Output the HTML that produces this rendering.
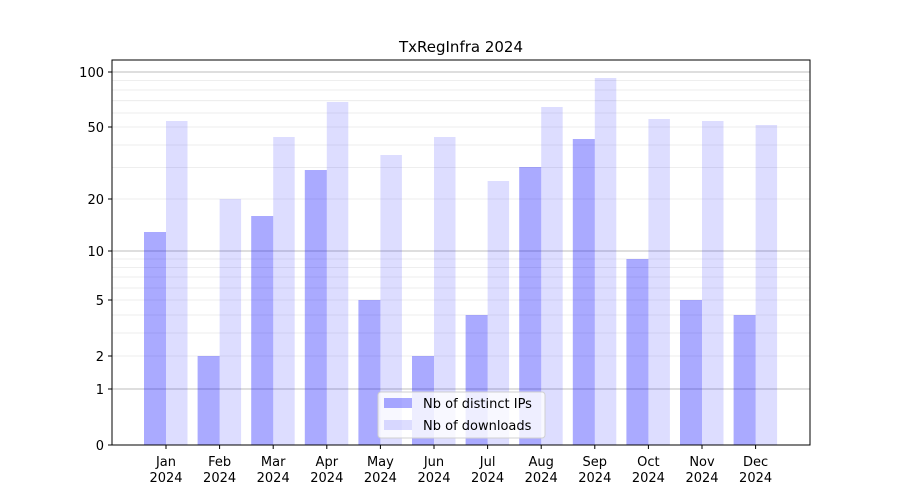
<!DOCTYPE html>
<html><head><meta charset="utf-8"><style>
html,body{margin:0;padding:0;background:#fff;}
svg{display:block;font-family:"DejaVu Sans","Liberation Sans",sans-serif;}
</style></head><body>
<svg width="900" height="500" viewBox="0 0 900 500" xmlns="http://www.w3.org/2000/svg">
<rect width="900" height="500" fill="#fff"/>
<text x="461" y="52" font-size="15" text-anchor="middle" fill="#000">TxRegInfra 2024</text>
<g stroke="#e8e8e8" stroke-width="0.8">
<line x1="112" x2="810" y1="356" y2="356"/><line x1="112" x2="810" y1="333" y2="333"/>
<line x1="112" x2="810" y1="315" y2="315"/><line x1="112" x2="810" y1="300" y2="300"/>
<line x1="112" x2="810" y1="288" y2="288"/><line x1="112" x2="810" y1="277" y2="277"/>
<line x1="112" x2="810" y1="267.5" y2="267.5"/><line x1="112" x2="810" y1="259" y2="259"/>
<line x1="112" x2="810" y1="199" y2="199"/><line x1="112" x2="810" y1="167.6" y2="167.6"/>
<line x1="112" x2="810" y1="145" y2="145"/><line x1="112" x2="810" y1="127" y2="127"/>
<line x1="112" x2="810" y1="113" y2="113"/><line x1="112" x2="810" y1="100.7" y2="100.7"/>
<line x1="112" x2="810" y1="90" y2="90"/><line x1="112" x2="810" y1="80.6" y2="80.6"/>
</g>
<g stroke="#bdbdbd" stroke-width="1">
<line x1="112" x2="810" y1="389" y2="389"/><line x1="112" x2="810" y1="251" y2="251"/><line x1="112" x2="810" y1="72" y2="72"/>
</g>
<g fill="#0000ff" fill-opacity="0.333">
<rect x="144" y="232" width="22" height="213"/>
<rect x="197.6" y="356" width="22" height="89"/>
<rect x="251.2" y="216" width="22" height="229"/>
<rect x="304.8" y="170" width="22" height="275"/>
<rect x="358.4" y="300" width="22" height="145"/>
<rect x="412" y="356" width="22" height="89"/>
<rect x="465.6" y="315" width="22" height="130"/>
<rect x="519.2" y="167" width="22" height="278"/>
<rect x="572.8" y="139" width="22" height="306"/>
<rect x="626.4" y="259" width="22" height="186"/>
<rect x="680" y="300" width="22" height="145"/>
<rect x="733.6" y="315" width="22" height="130"/>
</g>
<g fill="#0000ff" fill-opacity="0.133">
<rect x="166" y="121" width="21.5" height="324"/>
<rect x="219.6" y="199" width="21.5" height="246"/>
<rect x="273.2" y="137" width="21.5" height="308"/>
<rect x="326.8" y="102" width="21.5" height="343"/>
<rect x="380.4" y="155" width="21.5" height="290"/>
<rect x="434" y="137" width="21.5" height="308"/>
<rect x="487.6" y="181" width="21.5" height="264"/>
<rect x="541.2" y="107" width="21.5" height="338"/>
<rect x="594.8" y="78" width="21.5" height="367"/>
<rect x="648.4" y="119" width="21.5" height="326"/>
<rect x="702" y="121" width="21.5" height="324"/>
<rect x="755.6" y="125" width="21.5" height="320"/>
</g>
<rect x="112" y="60" width="698" height="385" fill="none" stroke="#000" stroke-width="1"/>
<g stroke="#000" stroke-width="1">
<line x1="108" x2="112" y1="445" y2="445"/><line x1="108" x2="112" y1="389" y2="389"/>
<line x1="108" x2="112" y1="356" y2="356"/><line x1="108" x2="112" y1="300" y2="300"/>
<line x1="108" x2="112" y1="251" y2="251"/><line x1="108" x2="112" y1="199" y2="199"/>
<line x1="108" x2="112" y1="127" y2="127"/><line x1="108" x2="112" y1="72" y2="72"/>
</g>
<g font-size="13" text-anchor="end" fill="#000">
<text x="104" y="450">0</text><text x="104" y="394">1</text><text x="104" y="361">2</text>
<text x="104" y="305">5</text><text x="104" y="256">10</text><text x="104" y="204">20</text>
<text x="104" y="132">50</text><text x="104" y="77">100</text>
</g>
<g font-size="13" text-anchor="middle" fill="#000">
<text x="166" y="466">Jan</text><text x="166" y="482">2024</text>
<text x="219.6" y="466">Feb</text><text x="219.6" y="482">2024</text>
<text x="273.2" y="466">Mar</text><text x="273.2" y="482">2024</text>
<text x="326.8" y="466">Apr</text><text x="326.8" y="482">2024</text>
<text x="380.4" y="466">May</text><text x="380.4" y="482">2024</text>
<text x="434" y="466">Jun</text><text x="434" y="482">2024</text>
<text x="487.6" y="466">Jul</text><text x="487.6" y="482">2024</text>
<text x="541.2" y="466">Aug</text><text x="541.2" y="482">2024</text>
<text x="594.8" y="466">Sep</text><text x="594.8" y="482">2024</text>
<text x="648.4" y="466">Oct</text><text x="648.4" y="482">2024</text>
<text x="702" y="466">Nov</text><text x="702" y="482">2024</text>
<text x="755.6" y="466">Dec</text><text x="755.6" y="482">2024</text>
</g>
<g stroke="#000">
<line x1="166" x2="166" y1="445" y2="449"/><line x1="219.6" x2="219.6" y1="445" y2="449"/>
<line x1="273.2" x2="273.2" y1="445" y2="449"/><line x1="326.8" x2="326.8" y1="445" y2="449"/>
<line x1="380.4" x2="380.4" y1="445" y2="449"/><line x1="434" x2="434" y1="445" y2="449"/>
<line x1="487.6" x2="487.6" y1="445" y2="449"/><line x1="541.2" x2="541.2" y1="445" y2="449"/>
<line x1="594.8" x2="594.8" y1="445" y2="449"/><line x1="648.4" x2="648.4" y1="445" y2="449"/>
<line x1="702" x2="702" y1="445" y2="449"/><line x1="755.6" x2="755.6" y1="445" y2="449"/>
</g>
<rect x="378" y="392" width="167" height="46" rx="3" fill="#fff" fill-opacity="0.8" stroke="#d0d0d0"/>
<rect x="384" y="398" width="28" height="10" fill="#0000ff" fill-opacity="0.333"/>
<rect x="384" y="420" width="28" height="10" fill="#0000ff" fill-opacity="0.133"/>
<text x="423" y="408" font-size="13" fill="#000">Nb of distinct IPs</text>
<text x="423" y="430" font-size="13" fill="#000">Nb of downloads</text>
</svg>
</body></html>
